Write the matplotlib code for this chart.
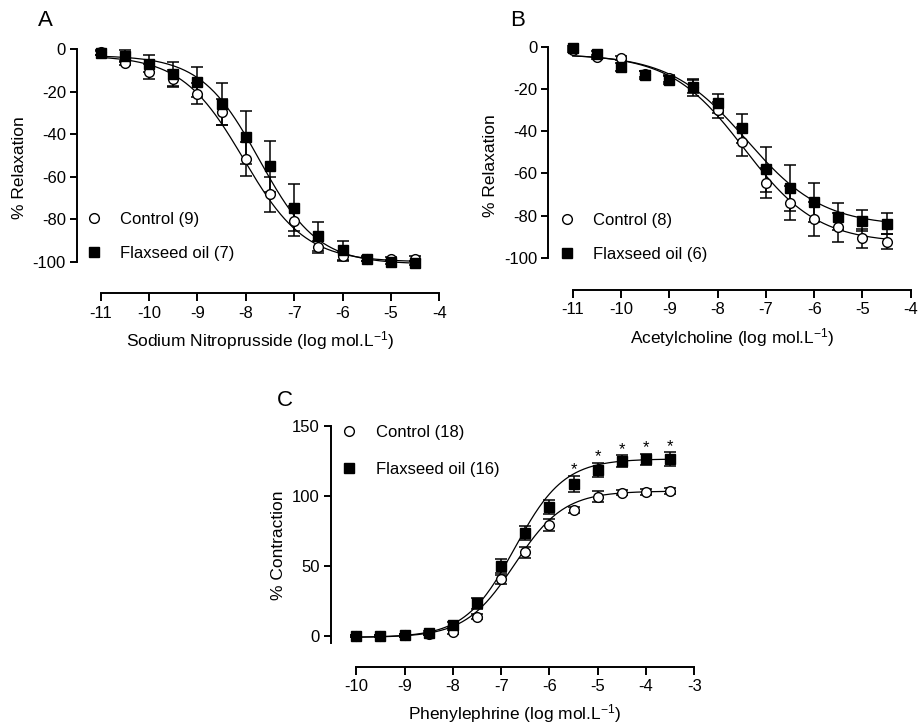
import numpy as np
import matplotlib.pyplot as plt

plt.rcParams['font.family'] = ['Liberation Sans', 'DejaVu Sans']
plt.rcParams['mathtext.default'] = 'regular'
plt.rcParams['axes.unicode_minus'] = False

W, H = 919, 727

# —— 数据——
log_conc_ab = [-11, -10.5, -10, -9.5, -9, -8.5, -8, -7.5, -7, -6.5, -6, -5.5, -5, -4.5]
log_conc_c = [-10, -9.5, -9, -8.5, -8, -7.5, -7, -6.5, -6, -5.5, -5, -4.5, -4, -3.5]

# A: Sodium nitroprusside
snp_ctrl = [-1.6, -6.7, -10.7, -14, -21, -29.5, -51.7, -68.3, -80.7, -93, -97.3, -98.4, -98.7, -98.4]
snp_ctrl_sem = [1, 1, 3.5, 4, 5, 6, 8, 8, 7, 3, 2, 1, 1, 1]
snp_flax = [-2, -3.3, -7, -11.8, -15.4, -25.9, -41.5, -55, -74.5, -88, -94.5, -98.7, -100, -100.3]
snp_flax_sem = [1, 3, 4, 5.5, 7, 10, 12.5, 12, 11, 7, 4.5, 1, 1, 1]

# B: Acetylcholine
ach_ctrl = [-1.6, -4.7, -5.5, -13, -15, -19, -30, -45, -64.5, -74, -81.8, -85.6, -90.8, -92.4]
ach_ctrl_sem = [1, 1, 1, 1.5, 1.5, 3, 4, 7, 7, 8, 8, 7, 4.5, 3.5]
ach_flax = [-0.5, -3.6, -9.5, -13.4, -15.8, -19.3, -26.9, -38.7, -58, -67, -73.8, -80.6, -82.5, -84]
ach_flax_sem = [1, 1.5, 2, 2, 2, 4, 4.3, 7, 10.7, 10.7, 9.3, 6.4, 5, 5]

# C: Phenylephrine
phe_ctrl = [0, 0, 0.5, 1.4, 2.6, 13.8, 40.5, 59.8, 79.3, 90, 99.5, 102.4, 103, 103.6]
phe_ctrl_sem = [1, 1, 1, 1, 1.5, 2, 3, 4, 4, 2, 4, 2, 2, 2]
phe_flax = [0, 0, 0.5, 2.4, 7.9, 23.3, 50, 73.3, 92.4, 108.6, 118.6, 125, 126.2, 126.2]
phe_flax_sem = [1, 1, 1, 1.5, 2, 4, 5, 5, 5, 6, 5, 4, 4, 5]
phe_sig = [False] * 9 + [True] * 5

# 拟合参数 (低浓度平台, 高浓度平台, logEC50, Hill)
fit_snp_ctrl = (-3, -100, -8.05, 0.68)
fit_snp_flax = (-3, -101, -7.72, 0.72)
fit_ach_ctrl = (-3.5, -93, -7.45, 0.57)
fit_ach_flax = (-3.5, -85, -7.4, 0.55)
fit_phe_ctrl = (-1, 103.5, -6.72, 0.85)
fit_phe_flax = (-1, 126.5, -6.72, 0.85)


def sigmoid(x, p):
    lo, hi, ec50, n = p
    return lo + (hi - lo) / (1 + 10 ** ((ec50 - x) * n))


def place_axes(fig, xpx, xval, ypx, yval, xlim, ylim):
    sx = (xpx[1] - xpx[0]) / (xval[1] - xval[0])
    sy = (ypx[1] - ypx[0]) / (yval[1] - yval[0])
    l = xpx[0] + (xlim[0] - xval[0]) * sx
    r = xpx[0] + (xlim[1] - xval[0]) * sx
    b = ypx[0] + (ylim[0] - yval[0]) * sy
    t = ypx[0] + (ylim[1] - yval[0]) * sy
    ax = fig.add_axes([l / W, 1 - b / H, (r - l) / W, (b - t) / H])
    ax.set_xlim(xlim)
    ax.set_ylim(ylim)
    return ax


def draw_panel(ax, x, ctrl, ctrl_sem, flax, flax_sem, fit_c, fit_f, xfit_range,
               xbounds, ybounds, yticks, xlabel, ylabel, labels, leg_px, leg_space,
               xlabelpad, letter, letter_px):
    for s in ['top', 'right']:
        ax.spines[s].set_visible(False)
    for s in ['left', 'bottom']:
        ax.spines[s].set_linewidth(1.4)
    ax.spines['left'].set_bounds(*ybounds)
    ax.spines['bottom'].set_bounds(*xbounds)

    xf = np.linspace(xfit_range[0], xfit_range[1], 300)
    ax.plot(xf, sigmoid(xf, fit_c), color='black', lw=0.9, clip_on=False)
    ax.plot(xf, sigmoid(xf, fit_f), color='black', lw=0.9, clip_on=False)

    ax.errorbar(x, ctrl, yerr=ctrl_sem, fmt='none', ecolor='black', elinewidth=1.1,
                capsize=4, capthick=1.1, clip_on=False)
    ax.errorbar(x, flax, yerr=flax_sem, fmt='none', ecolor='black', elinewidth=1.1,
                capsize=4, capthick=1.1, clip_on=False)
    ax.plot(x, ctrl, 'o', ms=7, mfc='white', mec='black', mew=1.0, ls='none',
            label=labels[0], clip_on=False, zorder=4)
    ax.plot(x, flax, 's', ms=7, mfc='black', mec='black', ls='none',
            label=labels[1], clip_on=False, zorder=5)

    ax.set_xticks(range(xbounds[0], xbounds[1] + 1))
    ax.set_yticks(yticks)
    ax.tick_params(axis='both', direction='out', length=5, width=1.4, labelsize=12,
                   pad=3)
    ax.tick_params(axis='x', length=6)
    ax.set_xlabel(xlabel, fontsize=12.5, labelpad=xlabelpad)
    ax.set_ylabel(ylabel, fontsize=12.5, labelpad=4)

    fig = ax.get_figure()
    ax.legend(loc='upper left', bbox_to_anchor=(leg_px[0] / W, 1 - leg_px[1] / H),
              bbox_transform=fig.transFigure, frameon=False, fontsize=12,
              handlelength=0.9, handletextpad=1.15, labelspacing=leg_space,
              borderpad=0, borderaxespad=0, numpoints=1)
    fig.text(letter_px[0] / W, 1 - letter_px[1] / H, letter, fontsize=16,
             ha='left', va='center')


fig = plt.figure(figsize=(W / 100, H / 100), dpi=100)

# A
axA = place_axes(fig, (100.7, 439.3), (-11, -4), (49, 262), (0, -100),
                 (-11.49, -3.9), (-114.6, 3))
draw_panel(axA, log_conc_ab, snp_ctrl, snp_ctrl_sem, snp_flax, snp_flax_sem,
           fit_snp_ctrl, fit_snp_flax, (-11, -4.5), (-11, -4), (-100, 0),
           [0, -20, -40, -60, -80, -100],
           r'Sodium Nitroprusside (log mol.L$^{-1}$)', '% Relaxation',
           ['Control (9)', 'Flaxseed oil (7)'], (86, 212), 1.15, 6, 'A', (38, 20))

# B
axB = place_axes(fig, (572.7, 910.7), (-11, -4), (46.7, 257.7), (0, -100),
                 (-11.505, -3.9), (-115.3, 3))
draw_panel(axB, log_conc_ab, ach_ctrl, ach_ctrl_sem, ach_flax, ach_flax_sem,
           fit_ach_ctrl, fit_ach_flax, (-11, -4.5), (-11, -4), (-100, 0),
           [0, -20, -40, -60, -80, -100],
           r'Acetylcholine (log mol.L$^{-1}$)', '% Relaxation',
           ['Control (8)', 'Flaxseed oil (6)'], (559, 213), 1.15, 6, 'B', (510, 20))

# C
axC = place_axes(fig, (356.3, 694.3), (-10, -3), (426, 636), (150, 0),
                 (-10.53, -2.9), (-21.9, 152))
draw_panel(axC, log_conc_c, phe_ctrl, phe_ctrl_sem, phe_flax, phe_flax_sem,
           fit_phe_ctrl, fit_phe_flax, (-10, -3.5), (-10, -3), (-5, 150),
           [0, 50, 100, 150],
           r'Phenylephrine (log mol.L$^{-1}$)', '% Contraction',
           ['Control (18)', 'Flaxseed oil (16)'], (341.5, 425), 1.3, 6, 'C', (277, 400))

for xi, yi, ei, sig in zip(log_conc_c, phe_flax, phe_flax_sem, phe_sig):
    if sig:
        axC.annotate('*', (xi, yi + ei), xytext=(0, -1), textcoords='offset points',
                     ha='center', va='bottom', fontsize=12, annotation_clip=False)

fig.savefig('out.png', dpi=100)
